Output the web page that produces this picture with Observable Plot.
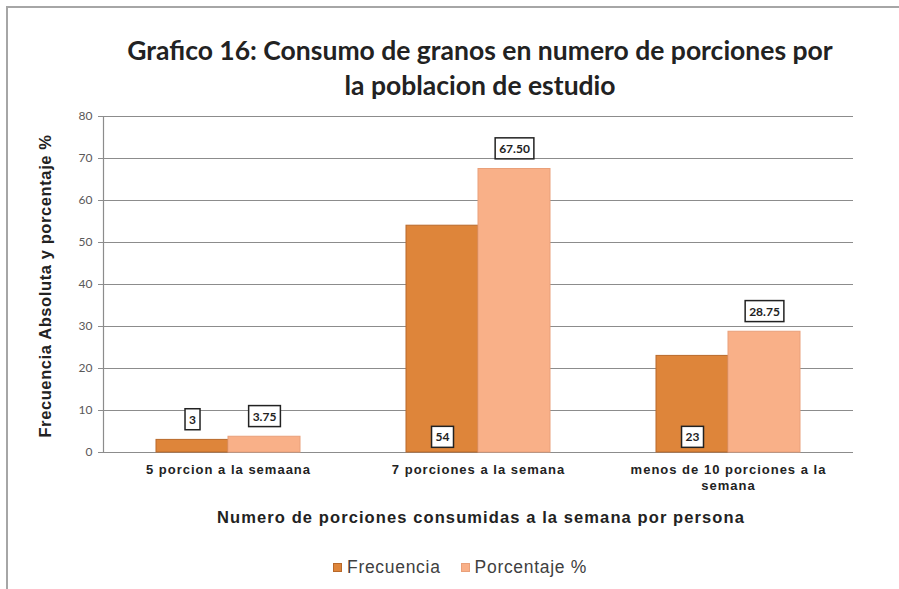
<!DOCTYPE html>
<html>
<head>
<meta charset="utf-8">
<script src="https://cdn.jsdelivr.net/npm/d3@7"></script>
<script src="https://cdn.jsdelivr.net/npm/@observablehq/plot@0.6"></script>
<style>
  html, body { margin: 0; padding: 0; background: #fff; }
  #wrap { position: relative; width: 899px; height: 589px; overflow: hidden; background: #fff; }
  #frame { position: absolute; left: 6px; top: 6px; width: 1000px; height: 1000px; border-left: 2px solid #a6a6a6; border-top: 2px solid #a6a6a6; }
  #title { position: absolute; left: 0; width: 960px; top: 33px; text-align: center; font: bold 26.5px Lato, "Open Sans", sans-serif; line-height: 35px; color: #222; }
  #ytitle { position: absolute; left: 45px; top: 286px; transform: translate(-50%, -50%) rotate(-90deg); white-space: nowrap; font: bold 16.5px "Liberation Sans", Arial, sans-serif; letter-spacing: 0.6px; color: #222; }
  #xtitle { position: absolute; left: 0; width: 962px; top: 508px; text-align: center; font: bold 16.5px "Liberation Sans", Arial, sans-serif; letter-spacing: 1.1px; color: #222; }
  #legend { position: absolute; top: 557px; left: 333px; font: 17.5px "Liberation Sans", Arial, sans-serif; letter-spacing: 0.7px; color: #404040; display: flex; align-items: center; }
  #legend .sw { display: inline-block; width: 9px; height: 9px; margin-right: 5px; }
  #legend .item { display: flex; align-items: center; margin-right: 20px; }
  #chart { position: absolute; left: 0; top: 0; }
</style>
</head>
<body>
<div id="wrap">
  <div id="frame"></div>
  <div id="chart"></div>
  <div id="title"></div>
  <div id="ytitle"></div>
  <div id="xtitle"></div>
  <div id="legend"></div>
</div>
<script>
const titleText = ["Grafico 16: Consumo de granos en numero de porciones por", "la poblacion de estudio"];
const yTitle = "Frecuencia Absoluta y porcentaje %";
const xTitle = "Numero de porciones consumidas a la semana por persona";
const categories = ["5 porcion a la semaana", "7 porciones a la semana", "menos de 10 porciones a la semana"];
const categoryLines = ["5 porcion a la semaana", "7 porciones a la semana", "menos de 10 porciones a la\nsemana"];
const series = ["Frecuencia", "Porcentaje %"];
const frecuencia = [3, 54, 23];
const porcentaje = [3.75, 67.50, 28.75];
const frecuenciaLabels = ["3", "54", "23"];
const porcentajeLabels = ["3.75", "67.50", "28.75"];
const yTicks = [0, 10, 20, 30, 40, 50, 60, 70, 80];
const colors = ["#de853a", "#f9b088"];
const strokes = ["#b8692b", "#e9a07a"];

document.getElementById("title").innerHTML = titleText.join("<br>");
document.getElementById("ytitle").textContent = yTitle;
document.getElementById("xtitle").textContent = xTitle;
document.getElementById("legend").innerHTML = series.map((s, i) =>
  `<span class="item"><span class="sw" style="background:${colors[i]};border:1px solid ${strokes[i]};box-sizing:border-box"></span>${s}</span>`).join("");

const data = categories.flatMap((c, i) => [
  {cat: c, series: series[0], value: frecuencia[i], label: frecuenciaLabels[i]},
  {cat: c, series: series[1], value: porcentaje[i], label: porcentajeLabels[i]}
]);

const labelFont = {fontFamily: "Lato, 'Liberation Sans Narrow', sans-serif", fontWeight: "bold", fontSize: 12, fill: "#222"};

const chart = Plot.plot({
  width: 899,
  height: 589,
  marginLeft: 103,
  marginRight: 46,
  marginTop: 116,
  marginBottom: 137,
  fx: {domain: categories, padding: 0, label: null},
  x: {domain: series, paddingInner: 0, paddingOuter: 0.736, axis: null},
  y: {domain: [0, 80], label: null},
  color: {domain: series, range: colors},
  marks: [
    Plot.gridY(yTicks, {stroke: "#8c8c8c", strokeOpacity: 1, strokeWidth: 1.2}),
    Plot.frame({anchor: "left", facetAnchor: "left", stroke: "#8c8c8c", strokeWidth: 1.2}),
    Plot.barY(data, {fx: "cat", x: "series", y: "value", fill: "series",
      stroke: d => strokes[series.indexOf(d.series)], strokeWidth: 1}),
    Plot.axisY(yTicks, {tickSize: 5, tickPadding: 6, stroke: "#8c8c8c", fill: "#595959",
      fontSize: 12, fontFamily: "Lato, sans-serif", tickFormat: d => String(d)}),
    Plot.axisFx({anchor: "bottom", tickSize: 0, tickPadding: 10, label: null,
      fontSize: 13, fontWeight: "bold", fontFamily: "'Liberation Sans', Arial, sans-serif", fill: "#222",
      tickFormat: c => categoryLines[categories.indexOf(c)], lineHeight: 1.25}),
    Plot.text(data.filter(d => d.series === series[1] || d.value < 10), {
      fx: "cat", x: "series", y: "value", text: "label", dy: -20, className: "boxlbl", ...labelFont}),
    Plot.text(data.filter(d => d.series === series[0] && d.value >= 10), {
      fx: "cat", x: "series", y: d => 0, text: "label", dy: -15, className: "boxlbl", ...labelFont})
  ]
});
document.getElementById("chart").appendChild(chart);
chart.querySelectorAll("[aria-label='fx-axis tick label']").forEach(el => el.setAttribute("letter-spacing", "1px"));

// draw boxed label backgrounds
chart.querySelectorAll(".boxlbl text").forEach(t => {
  const bb = t.getBBox();
  const r = document.createElementNS("http://www.w3.org/2000/svg", "rect");
  const px = 4, py = 3;
  r.setAttribute("x", bb.x - px);
  r.setAttribute("y", bb.y - py);
  r.setAttribute("width", bb.width + 2 * px);
  r.setAttribute("height", bb.height + 2 * py);
  r.setAttribute("fill", "#fff");
  r.setAttribute("stroke", "#222");
  r.setAttribute("stroke-width", "1.5");
  const tr = t.getAttribute("transform");
  if (tr) r.setAttribute("transform", tr);
  t.parentNode.insertBefore(r, t);
});
</script>
</body>
</html>
